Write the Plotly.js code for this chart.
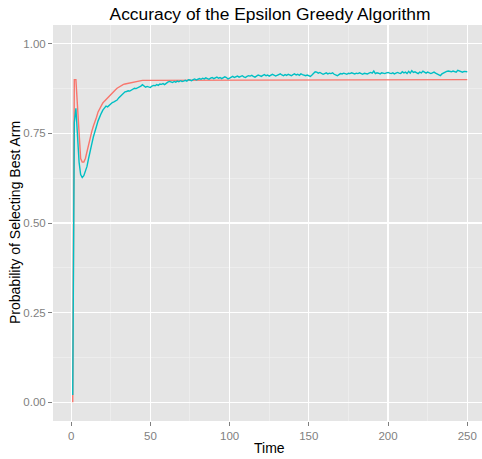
<!DOCTYPE html>
<html>
<head>
<meta charset="utf-8">
<script src="https://cdn.plot.ly/plotly-3.0.1.min.js"></script>
<style>html,body{margin:0;padding:0;overflow:hidden;background:#fff;}#chart{width:487px;height:459px;}</style>
</head>
<body>
<div id="chart"></div>
<script>
// Probability of selecting the best arm, one value per time step (t = 1..250)
var seriesRed = [
0.00,0.90,0.90,0.82,0.74,0.68,0.67,0.67,0.68,0.70,
0.72,0.74,0.755,0.77,0.78,0.795,0.81,0.82,0.83,0.835,
0.84,0.845,0.85,0.855,0.86,0.865,0.868,0.872,0.876,0.879,
0.882,0.885,0.887,0.888,0.889,0.891,0.892,0.893,0.894,0.895,
0.895,0.896,0.897,0.897,0.898,0.898,0.898,0.899,0.899,0.899,
0.899,0.899,0.899,0.9,0.899,0.9,0.9,0.9,0.9,0.9,
0.9,0.9,0.9,0.9,0.9,0.9,0.9,0.9,0.9,0.9,
0.9,0.9,0.9,0.9,0.9,0.9,0.9,0.9,0.9,0.9,
0.9,0.9,0.9,0.9,0.9,0.9,0.9,0.9,0.9,0.9,
0.9,0.9,0.9,0.9,0.9,0.9,0.9,0.9,0.9,0.9,
0.9,0.9,0.9,0.9,0.9,0.9,0.9,0.9,0.9,0.9,
0.9,0.9,0.9,0.9,0.9,0.9,0.9,0.9,0.9,0.9,
0.9,0.9,0.9,0.9,0.9,0.9,0.9,0.9,0.9,0.9,
0.9,0.9,0.9,0.9,0.9,0.9,0.9,0.9,0.9,0.9,
0.9,0.9,0.9,0.9,0.9,0.9,0.9,0.9,0.9,0.9,
0.9,0.9,0.9,0.9,0.9,0.9,0.9,0.9,0.9,0.9,
0.9,0.9,0.9,0.9,0.9,0.9,0.9,0.9,0.9,0.9,
0.9,0.9,0.9,0.9,0.9,0.9,0.9,0.9,0.9,0.9,
0.9,0.9,0.9,0.9,0.9,0.9,0.9,0.9,0.9,0.9,
0.9,0.9,0.9,0.9,0.9,0.9,0.9,0.9,0.9,0.9,
0.9,0.9,0.9,0.9,0.9,0.9,0.9,0.9,0.9,0.9,
0.9,0.9,0.9,0.9,0.9,0.9,0.9,0.9,0.9,0.9,
0.9,0.9,0.9,0.9,0.9,0.9,0.9,0.9,0.9,0.9,
0.9,0.9,0.9,0.9,0.9,0.9,0.9,0.9,0.9,0.9,
0.9,0.9,0.9,0.9,0.9,0.9,0.9,0.9,0.9,0.9
];
var seriesCyan = [
0.02,0.78,0.82,0.74,0.67,0.635,0.627,0.632,0.645,0.658,
0.68,0.704,0.72,0.74,0.758,0.77,0.785,0.797,0.806,0.815,
0.822,0.826,0.824,0.829,0.832,0.836,0.838,0.84,0.843,0.849,
0.853,0.857,0.862,0.866,0.867,0.869,0.868,0.871,0.874,0.876,
0.875,0.877,0.878,0.882,0.886,0.883,0.879,0.881,0.879,0.878,
0.882,0.884,0.883,0.886,0.884,0.888,0.887,0.889,0.886,0.89,
0.893,0.895,0.893,0.892,0.895,0.893,0.896,0.894,0.897,0.895,
0.896,0.898,0.896,0.9,0.899,0.897,0.9,0.902,0.899,0.901,
0.903,0.901,0.904,0.902,0.905,0.903,0.901,0.904,0.906,0.903,
0.905,0.907,0.904,0.906,0.903,0.905,0.908,0.906,0.902,0.904,
0.907,0.909,0.906,0.908,0.91,0.907,0.909,0.911,0.908,0.906,
0.909,0.911,0.91,0.912,0.909,0.907,0.91,0.913,0.911,0.909,
0.912,0.914,0.911,0.913,0.91,0.912,0.915,0.913,0.91,0.912,
0.914,0.916,0.913,0.911,0.914,0.912,0.915,0.913,0.911,0.914,
0.916,0.913,0.915,0.912,0.916,0.914,0.912,0.911,0.913,0.91,
0.909,0.913,0.919,0.922,0.921,0.918,0.92,0.917,0.915,0.917,
0.919,0.916,0.918,0.917,0.919,0.915,0.912,0.911,0.914,0.917,
0.916,0.918,0.917,0.915,0.918,0.917,0.919,0.918,0.916,0.918,
0.917,0.919,0.918,0.915,0.918,0.917,0.916,0.918,0.92,0.918,
0.924,0.917,0.919,0.918,0.916,0.919,0.918,0.917,0.919,0.92,
0.918,0.917,0.919,0.916,0.918,0.92,0.918,0.917,0.922,0.919,
0.921,0.917,0.923,0.918,0.925,0.92,0.922,0.919,0.917,0.921,
0.919,0.924,0.92,0.918,0.921,0.919,0.917,0.919,0.921,0.918,
0.916,0.913,0.911,0.916,0.919,0.921,0.923,0.924,0.923,0.922,
0.924,0.923,0.921,0.926,0.924,0.922,0.921,0.923,0.922,0.922
];
var xTickVals = [0, 50, 100, 150, 200, 250];
var xTickText = ["0", "50", "100", "150", "200", "250"];
var yTickVals = [0, 0.25, 0.5, 0.75, 1];
var yTickText = ["0.00", "0.25", "0.50", "0.75", "1.00"];
var titleText = 'Accuracy of the Epsilon Greedy Algorithm';
var xTitle = 'Time';
var yTitle = 'Probability of Selecting Best Arm';

var timeRed = seriesRed.map(function (v, i) { return i + 1; });
var timeCyan = seriesCyan.map(function (v, i) { return i + 1; });

var traces = [
  {x: timeRed, y: seriesRed, type: 'scatter', mode: 'lines',
   line: {color: '#F8766D', width: 1.4}, showlegend: false, hoverinfo: 'skip'},
  {x: timeCyan, y: seriesCyan, type: 'scatter', mode: 'lines',
   line: {color: '#00BFC4', width: 1.4}, showlegend: false, hoverinfo: 'skip'}
];

var font = 'Liberation Sans, Arial, sans-serif';
var layout = {
  width: 487, height: 459,
  margin: {l: 53, r: 0, t: 25, b: 38, pad: 0},
  paper_bgcolor: '#ffffff',
  plot_bgcolor: '#E5E5E5',
  font: {family: font},
  title: {text: titleText,
          font: {family: font, size: 17.4, color: '#000000'},
          x: 0.5, xref: 'paper', xanchor: 'center',
          y: 0.969, yref: 'container', yanchor: 'middle'},
  xaxis: {
    range: [-11.45, 262.45], autorange: false, automargin: false,
    tickmode: 'array', tickvals: xTickVals, ticktext: xTickText,
    ticks: 'outside', ticklen: 4, tickwidth: 1, tickcolor: '#7F7F7F',
    tickfont: {family: font, size: 11.5, color: '#7F7F7F'},
    showgrid: true, gridcolor: '#FFFFFF', gridwidth: 1.2,
    minor: {tickvals: [25, 75, 125, 175, 225], showgrid: true, gridcolor: '#F2F2F2', gridwidth: 0.6, ticks: ''},
    zeroline: false, showline: false
  },
  yaxis: {
    range: [-0.0525, 1.0525], autorange: false, automargin: false,
    tickmode: 'array', tickvals: yTickVals, ticktext: yTickText,
    ticks: 'outside', ticklen: 4, tickwidth: 1, tickcolor: '#7F7F7F',
    tickfont: {family: font, size: 11.5, color: '#7F7F7F'},
    showgrid: true, gridcolor: '#FFFFFF', gridwidth: 1.2,
    minor: {tickvals: [0.125, 0.375, 0.625, 0.875], showgrid: true, gridcolor: '#F2F2F2', gridwidth: 0.6, ticks: ''},
    zeroline: false, showline: false
  },
  annotations: [
    {text: xTitle, xref: 'paper', yref: 'paper', x: (269 - 53) / 434, y: -(448 - 421) / 396,
     xanchor: 'center', yanchor: 'middle', showarrow: false,
     font: {family: font, size: 14, color: '#000000'}},
    {text: yTitle, xref: 'paper', yref: 'paper', x: (15 - 53) / 434, y: 0.5,
     xanchor: 'center', yanchor: 'middle', textangle: -90, showarrow: false,
     font: {family: font, size: 14, color: '#000000'}}
  ]
};

Plotly.newPlot('chart', traces, layout, {staticPlot: true, displayModeBar: false});
</script>
</body>
</html>
